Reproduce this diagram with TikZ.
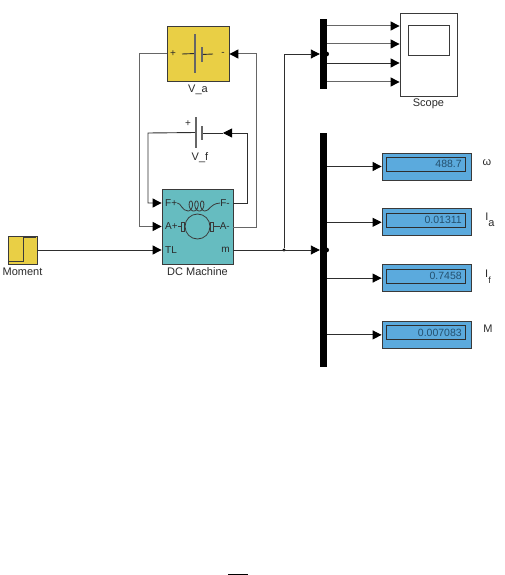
\documentclass[tikz,border=0pt]{standalone}
\usepackage{xcolor}
\usepackage{fontspec}
\setmainfont{Liberation Sans}
\usepackage{tikz}
\usetikzlibrary{positioning, arrows.meta}
\definecolor{srcyellow}{HTML}{E9CF45}
\definecolor{machteal}{HTML}{66BCC0}
\definecolor{dispblue}{HTML}{5BAADD}
\definecolor{edge}{HTML}{3A3A3A}
\definecolor{wirecol}{HTML}{2E2E2E}
\definecolor{wiregray}{HTML}{666666}
\definecolor{ink}{HTML}{2A2A2A}
\definecolor{numink}{HTML}{24506E}
\tikzset{
  source/.style   = {rectangle, draw=edge, thick, fill=srcyellow, inner sep=0pt},
  machine/.style  = {rectangle, draw=edge, thick, fill=machteal, inner sep=0pt,
                    minimum width=71pt, minimum height=75pt},
  display/.style  = {rectangle, draw=edge, thick, fill=dispblue, inner sep=0pt,
                    minimum width=89pt, minimum height=27pt},
  readout/.style  = {rectangle, draw=edge!80!black, thick, inner sep=0pt, minimum width=79pt,
                    minimum height=14pt, text width=72.5pt, align=right, text=numink,
                    font=\fontsize{10.5}{12}\selectfont},
  mux/.style      = {rectangle, fill=black, inner sep=0pt, minimum width=7pt},
  plate/.style    = {rectangle, fill=wiregray, inner sep=0pt, minimum width=1.6pt},
  scopebox/.style = {rectangle, draw=edge, thick, fill=white, inner sep=0pt},
  lbl/.style      = {text=ink, inner sep=0pt, font=\fontsize{11}{13}\selectfont},
  port/.style     = {text=ink, inner sep=0pt, font=\fontsize{10}{12}\selectfont},
  dot/.style      = {circle, fill=black, inner sep=0pt, minimum size=3.4pt},
  ar/.style       = {-{Triangle[length=9pt,width=9pt,color=black]}, line width=0.9pt, draw=wirecol},
  argray/.style   = {-{Triangle[length=9pt,width=9pt,color=black]}, line width=1pt, draw=wiregray},
  wire/.style     = {line width=0.9pt, draw=wirecol},
}
\begin{document}
\begin{tikzpicture}[x=1pt, y=-1pt]
  \useasboundingbox (0,0) rectangle (504,575);

  % Armature source
  \node[source, minimum width=62pt, minimum height=55pt] (va) at (198,54) {};
  \node[lbl, below=3pt of va] (valbl) {V\_a};
  \node[plate, minimum height=39pt] (vahi) at (195,53.5) {};
  \node[plate, minimum height=15pt] (valo) at (202,54.5) {};
  \node[port] (vaplus) at (173,54) {+};
  \node[port] (vaminus) at (223,54) {-};
  \coordinate (valead) at (182,54);
  \coordinate (vblead) at (213,54);
  \draw[wire] (valead) -- (vahi);
  \draw[wire] (valo) -- (vblead);

  % Field source
  \node[plate, minimum height=31pt] (vfhi) at (196,132.5) {};
  \node[plate, minimum height=14pt] (vflo) at (202,133) {};
  \node[port] (vfplus) at (188,124) {+};
  \node[lbl] (vflbl) at (200,158) {V\_f};

  % DC machine
  \node[machine] (dc) at (197.5,226.5) {};
  \node[lbl, below=3pt of dc] (dclbl) {DC Machine};
  \node[port, anchor=west] (fplus)  at (165,203) {F+};
  \node[port, anchor=west] (aplus)  at (165,226.5) {A+};
  \node[port, anchor=west] (tl)     at (165,250) {TL};
  \node[port, anchor=east] (fminus) at (230,203) {F-};
  \node[port, anchor=east] (aminus) at (230,226.5) {A-};
  \node[port, anchor=east] (mout)   at (230,250) {m};
  \node[circle, draw=edge, thick, inner sep=0pt, minimum size=25pt] (rotor) at (197.5,226.5) {};
  \node[rectangle, draw=edge, inner sep=0pt, minimum width=3pt, minimum height=9pt, left=0pt of rotor] (brl) {};
  \node[rectangle, draw=edge, inner sep=0pt, minimum width=3pt, minimum height=9pt, right=0pt of rotor] (brr) {};
  \draw[edge, thick] (aplus) -- (brl);
  \draw[edge, thick] (brr) -- (aminus);
  \draw[edge, thick] (fplus.east) .. controls (181,203) and (182,211) .. (188,211)
    plot[domain=0:1080, samples=90, smooth] ({188+\x/1080*17+3*sin(\x)}, {206+5*cos(\x)})
    .. controls (210,211) and (209,204) .. (fminus.west);

  % Step input
  \node[source, minimum width=29pt, minimum height=28pt] (mom) at (22.5,250) {};
  \node[lbl, below=3pt of mom] (momlbl) {Moment};
  \coordinate (stepa) at (9,261);
  \coordinate (stepb) at (23,237);
  \coordinate (stepc) at (36,237);
  \draw[edge, thick] (stepa) -| (stepb) -- (stepc);

  % Buses
  \node[mux, minimum height=70pt]  (muxa) at (323.5,54) {};
  \node[mux, minimum height=234pt] (muxb) at (323.5,250) {};
  \node[dot, minimum size=5pt] (muxadot) at (326.5,54) {};
  \node[dot, minimum size=5pt] (muxbdot) at (326.5,250) {};

  % Scope
  \node[scopebox, minimum width=57pt, minimum height=83pt] (scope) at (428.5,54.5) {};
  \node[scopebox, minimum width=41pt, minimum height=30pt] (screen) at (428.5,40) {};
  \node[lbl, below=2pt of scope] (scopelbl) {Scope};

  % Displays
  \node[display] (dispw) at (426.5,166.5) {};
  \node[display, below=28pt of dispw] (dispa) {};
  \node[display, below=28pt of dispa] (dispf) {};
  \node[display, below=29pt of dispf] (dispm) {};
  \node[readout] (valw) at ([xshift=-1pt,yshift=2.5pt]dispw.center) {488.7};
  \node[readout] (vala) at ([xshift=-1pt,yshift=2pt]dispa.center) {0.01311};
  \node[readout] (valf) at ([xshift=-1pt,yshift=2pt]dispf.center) {0.7458};
  \node[readout] (valm) at ([xshift=-1pt,yshift=2.5pt]dispm.center) {0.007083};
  \node[lbl] (lblw) at (487,163) {ω};
  \node[lbl] (lbla) at (490,220) {I\raisebox{-6pt}{a}};
  \node[lbl] (lblf) at (488,277) {I\raisebox{-6pt}{\fontsize{9}{11}\selectfont f}};
  \node[lbl] (lblm) at (488,329) {M};

  % Corners
  \coordinate (nodea) at (139,54);
  \coordinate (nodeb) at (256,54);
  \coordinate (nodec) at (148,133);
  \coordinate (noded) at (247,133);
  \coordinate (tipf)  at (223,133);
  \node[dot] (branch) at (284,250) {};

  % Arrows in
  \draw[argray] (va.west) -- (nodea) |- (dc.west);
  \draw[argray] ([yshift=-0.5pt]dc.east) -| (nodeb) -- (va.east);
  \draw[ar] (vfhi) -- (nodec) |- ([yshift=23.5pt]dc.west);
  \draw[ar] ([yshift=23.5pt]dc.east) -| (noded) -- (tipf);
  \draw[wire] (tipf) -- (vflo);
  \draw[ar] (mom.east) -- (mom.east -| dc.west);
  \draw[ar] (mom.east -| dc.east) -- (mom.east -| muxb.west);
  \draw[ar] (branch) |- (muxa.west);

  % Arrows out
  \draw[argray] ([yshift=28pt]muxa.east) -- ([yshift=28.5pt]scope.west);
  \draw[argray] ([yshift=10pt]muxa.east) -- ([yshift=10.5pt]scope.west);
  \draw[ar] ([yshift=-9pt]muxa.east) -- ([yshift=-8.5pt]scope.west);
  \draw[argray] ([yshift=-28pt]muxa.east) -- ([yshift=-27.5pt]scope.west);
  \draw[ar] (muxb.east |- dispw.west) -- (dispw.west);
  \draw[ar] (muxb.east |- dispa.west) -- (dispa.west);
  \draw[ar] (muxb.east |- dispf.west) -- (dispf.west);
  \draw[ar] (muxb.east |- dispm.west) -- (dispm.west);

  % Fragment at the lower edge
  \coordinate (fraga) at (228,574);
  \coordinate (fragb) at (248,574);
  \draw[black, thick] (fraga) -- (fragb);

\end{tikzpicture}
\end{document}
